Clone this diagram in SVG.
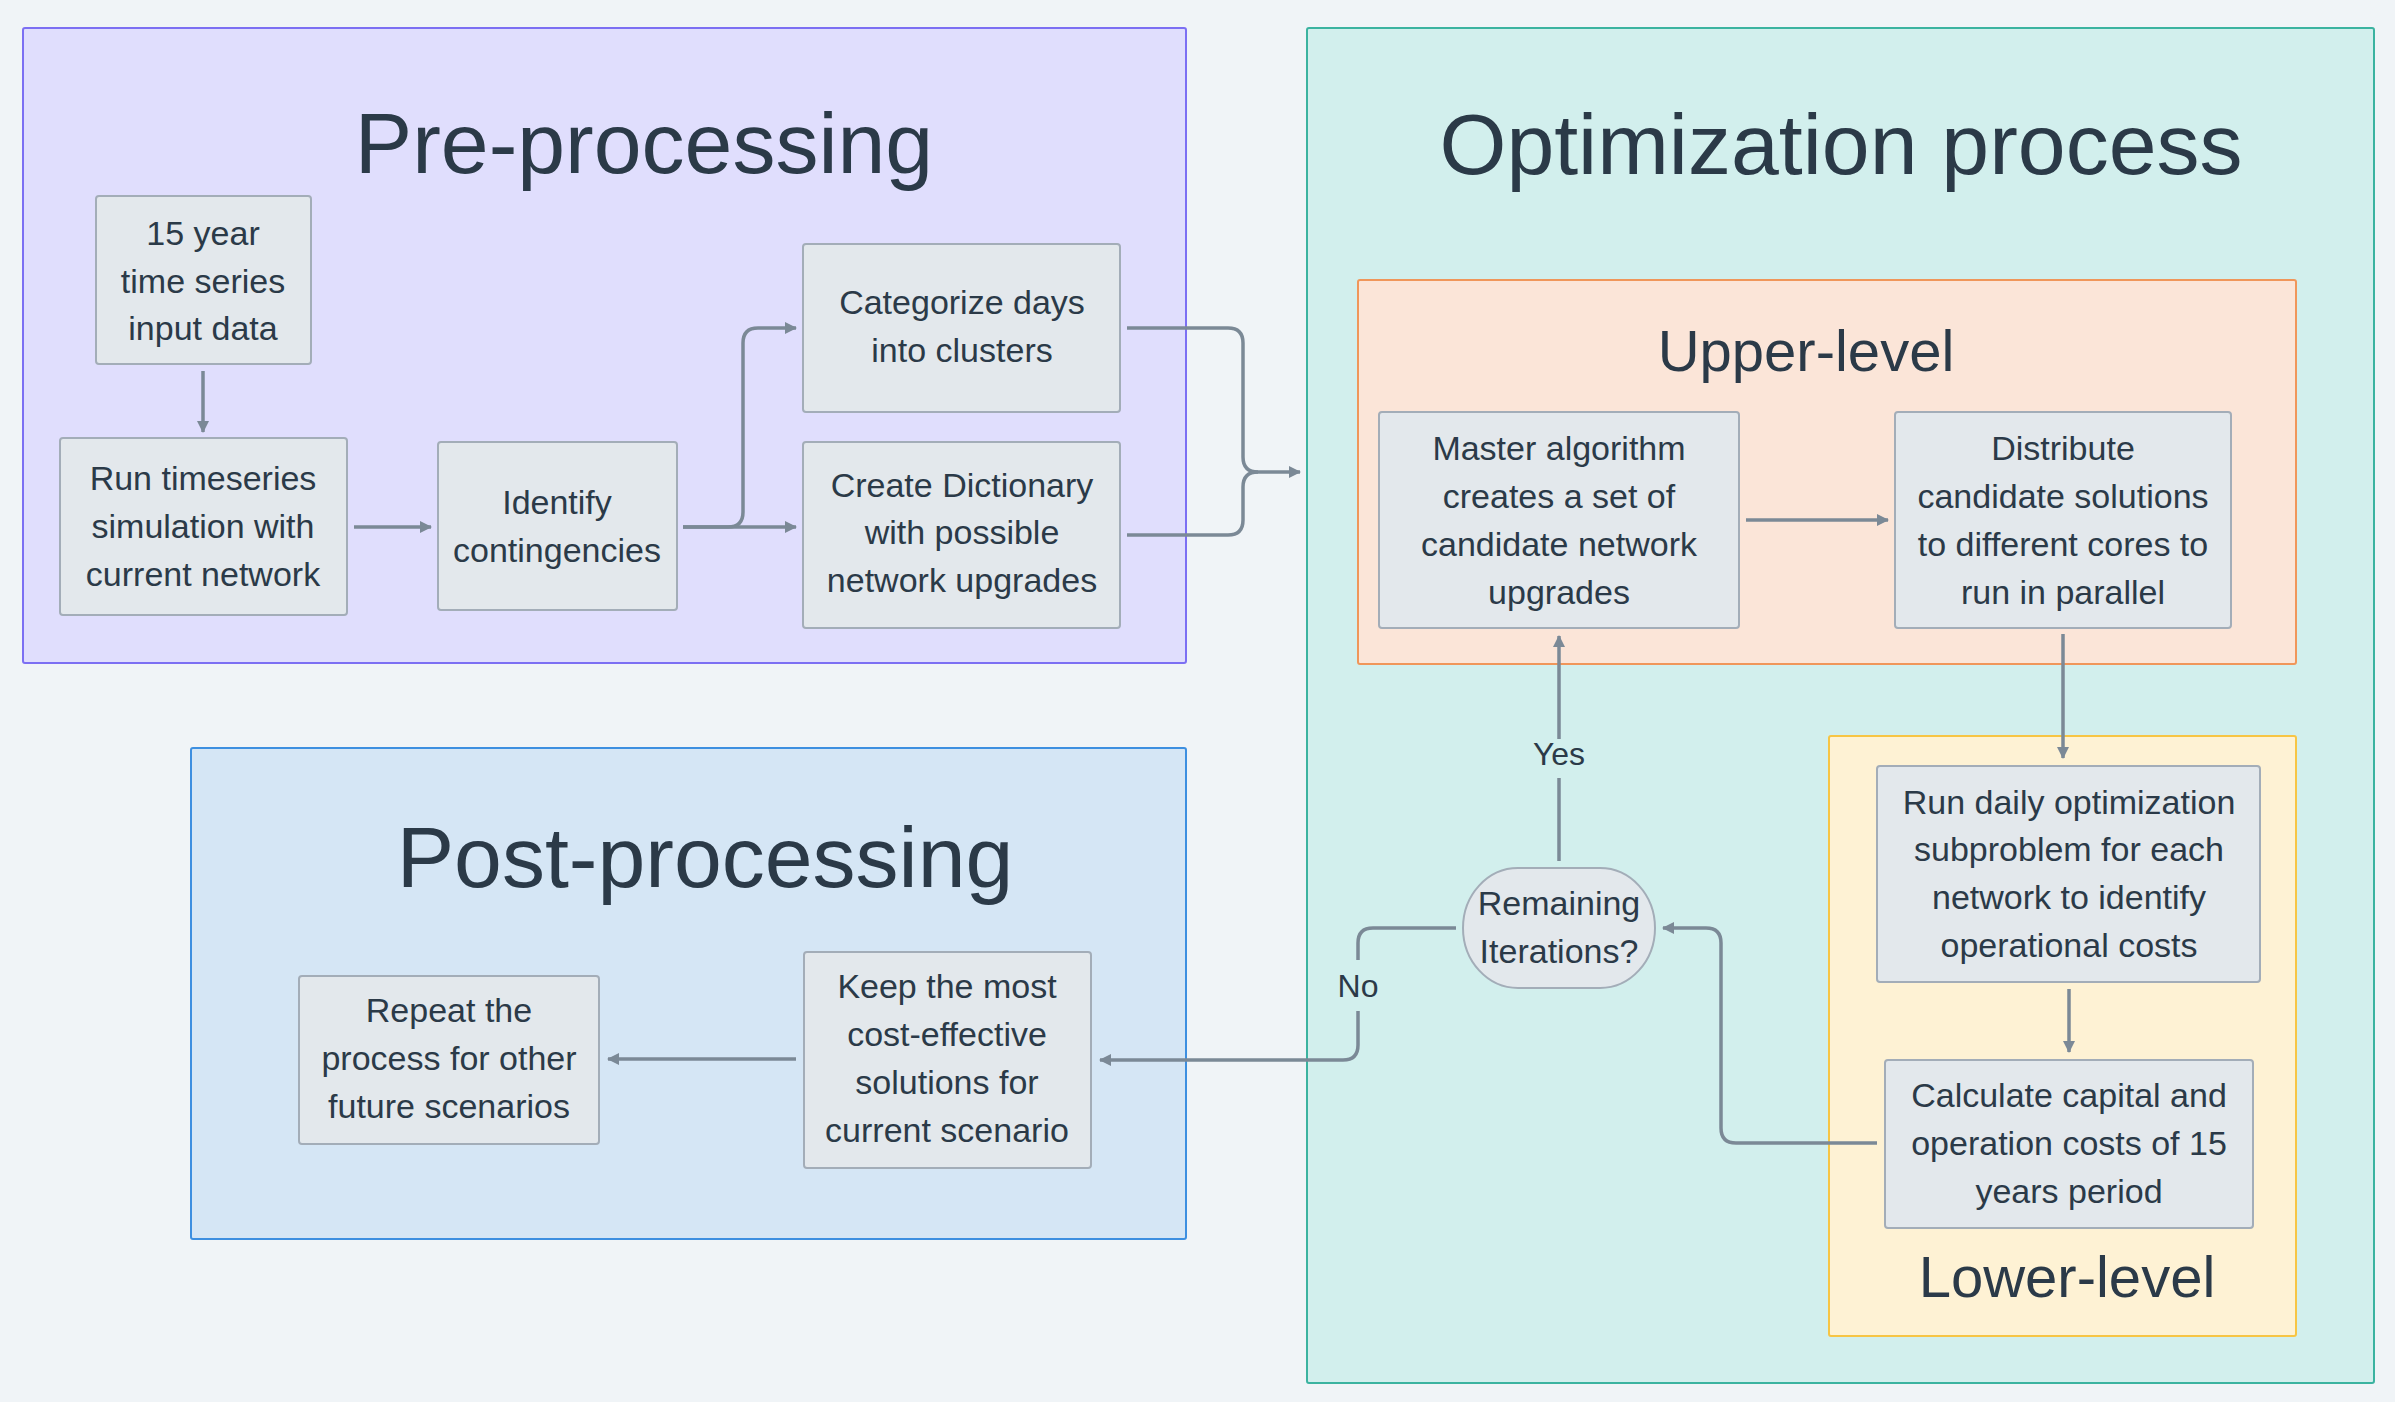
<svg xmlns="http://www.w3.org/2000/svg" width="2395" height="1402" viewBox="0 0 2395 1402">
<defs>
<marker id="arr" viewBox="0 0 12 12" refX="11" refY="6" markerWidth="12" markerHeight="12" markerUnits="userSpaceOnUse" orient="auto">
<path d="M0,0 L12,6 L0,12 z" fill="#7b8996"/>
</marker>
</defs>
<style>
text{font-family:"Liberation Sans",Arial,sans-serif;fill:#2b3a48;text-anchor:middle}
.t{font-size:34px}
.h{font-size:86px}
.s{font-size:58px}
.l{font-size:32px}
.n{fill:#e3e8ec;stroke:#a3adb8;stroke-width:2}
.c{fill:none;stroke:#7b8996;stroke-width:3.5;stroke-linejoin:round}
.a{marker-end:url(#arr)}
</style>
<rect width="2395" height="1402" fill="#f0f4f7"/>
<g id="pre-processing">
<rect x="23" y="28" width="1163" height="635" rx="2" fill="#e0defd" stroke="#7c6ff3" stroke-width="2"/>
<text class="h" x="644" y="173">Pre-processing</text>
</g>
<g id="optimization-process">
<rect x="1307" y="28" width="1067" height="1355" rx="2" fill="#d2efed" stroke="#3bb3a0" stroke-width="2"/>
<text class="h" x="1841" y="174">Optimization process</text>
</g>
<g id="upper-level">
<rect x="1358" y="280" width="938" height="384" rx="2" fill="#fbe5d8" stroke="#f0965a" stroke-width="2"/>
<text class="s" x="1806" y="371">Upper-level</text>
</g>
<g id="lower-level">
<rect x="1829" y="736" width="467" height="600" rx="2" fill="#fef2d4" stroke="#f7c544" stroke-width="2"/>
<text class="s" x="2067" y="1297">Lower-level</text>
</g>
<g id="post-processing">
<rect x="191" y="748" width="995" height="491" rx="2" fill="#d5e6f5" stroke="#3d8fe0" stroke-width="2"/>
<text class="h" x="705" y="887">Post-processing</text>
</g>
<g id="connectors">
<path class="c a" d="M203,371 V432"/>
<path class="c a" d="M354,527 H431"/>
<path class="c a" d="M683,527 H796"/>
<path class="c a" d="M683,527 H728 Q743,527 743,512 V343 Q743,328 758,328 H796"/>
<path class="c a" d="M1127,328 H1228 Q1243,328 1243,343 V457 Q1243,472 1258,472 H1300"/>
<path class="c" d="M1127,535 H1228 Q1243,535 1243,520 V487 Q1243,472 1258,472"/>
<path class="c a" d="M1746,520 H1888"/>
<path class="c a" d="M2063,634 V758"/>
<path class="c a" d="M2069,989 V1052"/>
<path class="c a" d="M1877,1143 H1736 Q1721,1143 1721,1128 V943 Q1721,928 1706,928 H1663"/>
<path class="c a" d="M1559,861 V778 M1559,739 V636"/>
<text class="l" x="1559" y="765">Yes</text>
<path class="c a" d="M1456,928 H1373 Q1358,928 1358,943 V960 M1358,1011 V1045 Q1358,1060 1343,1060 H1100"/>
<text class="l" x="1358" y="997">No</text>
<path class="c a" d="M796,1059 H608"/>
</g>
<g id="n-input">
<rect class="n" x="96" y="196" width="215" height="168" rx="3"/>
<text class="t" x="203" y="245">15 year</text>
<text class="t" x="203" y="293">time series</text>
<text class="t" x="203" y="340">input data</text>
</g>
<g id="n-run-timeseries">
<rect class="n" x="60" y="438" width="287" height="177" rx="3"/>
<text class="t" x="203" y="490">Run timeseries</text>
<text class="t" x="203" y="538">simulation with</text>
<text class="t" x="203" y="586">current network</text>
</g>
<g id="n-identify">
<rect class="n" x="438" y="442" width="239" height="168" rx="3"/>
<text class="t" x="557" y="514">Identify</text>
<text class="t" x="557" y="562">contingencies</text>
</g>
<g id="n-categorize">
<rect class="n" x="803" y="244" width="317" height="168" rx="3"/>
<text class="t" x="962" y="314">Categorize days</text>
<text class="t" x="962" y="362">into clusters</text>
</g>
<g id="n-dictionary">
<rect class="n" x="803" y="442" width="317" height="186" rx="3"/>
<text class="t" x="962" y="497">Create Dictionary</text>
<text class="t" x="962" y="544">with possible</text>
<text class="t" x="962" y="592">network upgrades</text>
</g>
<g id="n-master">
<rect class="n" x="1379" y="412" width="360" height="216" rx="3"/>
<text class="t" x="1559" y="460">Master algorithm</text>
<text class="t" x="1559" y="508">creates a set of</text>
<text class="t" x="1559" y="556">candidate network</text>
<text class="t" x="1559" y="604">upgrades</text>
</g>
<g id="n-distribute">
<rect class="n" x="1895" y="412" width="336" height="216" rx="3"/>
<text class="t" x="2063" y="460">Distribute</text>
<text class="t" x="2063" y="508">candidate solutions</text>
<text class="t" x="2063" y="556">to different cores to</text>
<text class="t" x="2063" y="604">run in parallel</text>
</g>
<g id="n-daily">
<rect class="n" x="1877" y="766" width="383" height="216" rx="3"/>
<text class="t" x="2069" y="814">Run daily optimization</text>
<text class="t" x="2069" y="861">subproblem for each</text>
<text class="t" x="2069" y="909">network to identify</text>
<text class="t" x="2069" y="957">operational costs</text>
</g>
<g id="n-calculate">
<rect class="n" x="1885" y="1060" width="368" height="168" rx="3"/>
<text class="t" x="2069" y="1107">Calculate capital and</text>
<text class="t" x="2069" y="1155">operation costs of 15</text>
<text class="t" x="2069" y="1203">years period</text>
</g>
<g id="n-remaining">
<rect class="n" x="1463" y="868" width="192" height="120" rx="55" ry="60"/>
<text class="t" x="1559" y="915">Remaining</text>
<text class="t" x="1559" y="963">Iterations?</text>
</g>
<g id="n-keep">
<rect class="n" x="804" y="952" width="287" height="216" rx="3"/>
<text class="t" x="947" y="998">Keep the most</text>
<text class="t" x="947" y="1046">cost-effective</text>
<text class="t" x="947" y="1094">solutions for</text>
<text class="t" x="947" y="1142">current scenario</text>
</g>
<g id="n-repeat">
<rect class="n" x="299" y="976" width="300" height="168" rx="3"/>
<text class="t" x="449" y="1022">Repeat the</text>
<text class="t" x="449" y="1070">process for other</text>
<text class="t" x="449" y="1118">future scenarios</text>
</g>
</svg>
